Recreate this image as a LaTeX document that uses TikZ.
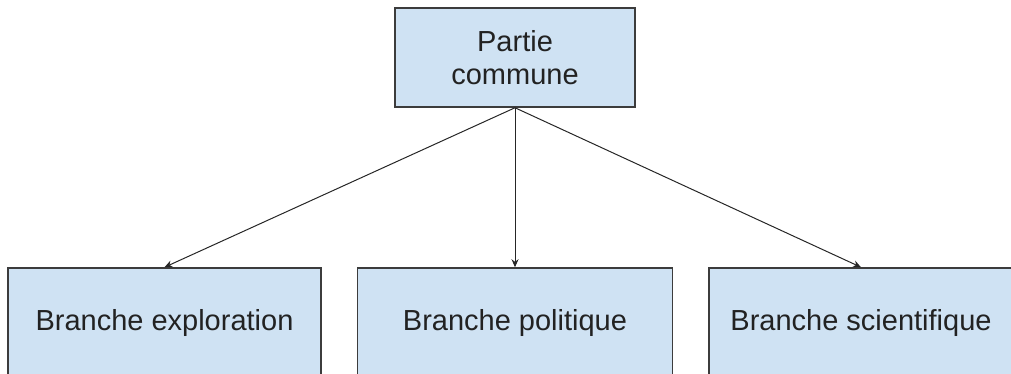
\documentclass[tikz,border=0pt]{standalone}
\usepackage{fontspec}
\setmainfont{Liberation Sans}
\usetikzlibrary{arrows.meta}
\definecolor{boxfill}{RGB}{207,226,243}
\definecolor{boxline}{RGB}{60,60,60}
\definecolor{txt}{RGB}{34,34,34}
\begin{document}
\begin{tikzpicture}[x=1pt,y=-1pt,
  box/.style={draw=boxline, line width=1.5pt, fill=boxfill, text=txt,
    font=\fontsize{29}{33}\selectfont, align=center, inner sep=0pt},
  link/.style={-{Stealth[length=8pt,width=7pt]}, line width=1pt, draw=black!85}]
\useasboundingbox (0,0) rectangle (1011,374);
\clip (0,0) rectangle (1011,374);
\node[box, minimum width=240pt, minimum height=99pt] (top) at (515,57.5) {Partie\\commune};
\node[box, minimum width=313pt, minimum height=110pt] (left) at (164.5,323) {Branche exploration};
\node[box, minimum width=315pt, minimum height=110pt] (mid) at (515,323) {Branche politique};
\node[box, minimum width=304pt, minimum height=110pt] (right) at (861,323) {Branche scientifique};
\draw[link] (top.south) -- (left.north);
\draw[link] (top.south) -- (mid.north);
\draw[link] (top.south) -- (right.north);
\end{tikzpicture}
\end{document}
